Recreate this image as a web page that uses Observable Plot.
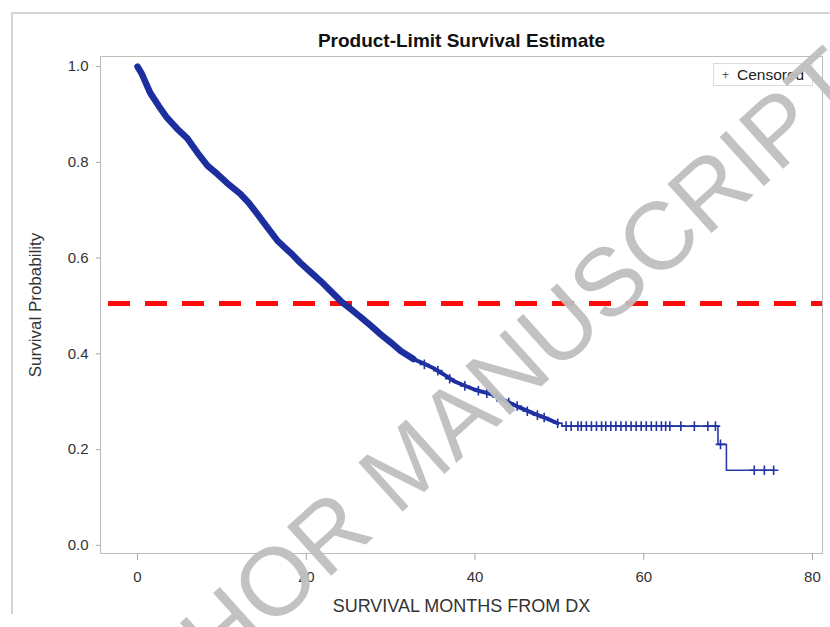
<!DOCTYPE html>
<html>
<head>
<meta charset="utf-8">
<script src="https://cdn.jsdelivr.net/npm/d3@7"></script>
<script src="https://cdn.jsdelivr.net/npm/@observablehq/plot@0.6"></script>
<style>
  body { margin: 0; background: #fff; font-family: "Liberation Sans", Arial, sans-serif; }
  #wrap { position: relative; width: 830px; height: 627px; overflow: hidden; }
  #border { position: absolute; left: 11px; top: 12px; width: 830px; height: 600px;
            border-left: 2px solid #d4d4d4; border-top: 2px solid #d4d4d4; }
  #legend { position: absolute; left: 713px; top: 63px; width: 100px; height: 23px;
            border: 1px solid #dcdcdc; font-size: 15.5px; color: #222; box-sizing: border-box;
            display: flex; align-items: center; }
  #legend .sym { color: #555; margin-left: 8px; margin-right: 8px; font-size: 12px; }
  #wm { position: absolute; left: 0; top: 0; pointer-events: none; }
</style>
</head>
<body>
<div id="wrap">
  <div id="border"></div>
  <div id="chart"></div>
  <div id="legend"><span class="sym">+</span><span>Censored</span></div>
  <svg id="wm" width="830" height="627"></svg>
</div>
<script>
// ---- data ----
const title = "Product-Limit Survival Estimate";
const xLabel = "SURVIVAL MONTHS FROM DX";
const yLabel = "Survival Probability";
const legendLabel = "Censored";
const watermark = "AUTHOR MANUSCRIPT";

const xTicks = [0, 20, 40, 60, 80];
const yTicks = [0.0, 0.2, 0.4, 0.6, 0.8, 1.0];
const medianLine = [0.505];

// dense part of the Kaplan-Meier curve (months, survival)
const earlyTime = [0, 0.5, 1.5, 2.5, 3.5, 4.7, 5.9, 7.1, 8.3, 9.5, 10.6, 12.2, 13.2, 14.2, 15.4, 16.6, 18.2, 19.3, 20.5, 21.7, 22.9, 24.1, 25.3, 26.5, 27.7, 28.8, 30.0, 31.2, 32.7];
const earlySurv = [1.0, 0.985, 0.945, 0.918, 0.893, 0.87, 0.85, 0.82, 0.793, 0.775, 0.757, 0.734, 0.715, 0.692, 0.664, 0.636, 0.61, 0.59, 0.571, 0.552, 0.531, 0.51, 0.493, 0.476, 0.458, 0.441, 0.424, 0.406, 0.389];
const lateTime = [32.7, 33.9, 35.1, 36.3, 37.5, 38.3, 40.0, 41.9, 43.6, 45.4, 47.0, 48.6, 49.8];
const lateSurv = [0.389, 0.38, 0.37, 0.357, 0.343, 0.337, 0.325, 0.316, 0.302, 0.287, 0.275, 0.264, 0.255];
// sparse tail (step function)
const tailTime = [49.8, 50.3, 68.8, 69.8, 75.4];
const tailSurv = [0.255, 0.249, 0.211, 0.157, 0.157];
// censored observations
const censTime = [34.0, 35.6, 37.0, 38.8, 40.4, 41.4, 42.6, 44.0, 45.0, 46.2, 47.4, 48.2, 49.8, 50.8, 51.4, 52.2, 52.6, 53.2, 53.8, 54.4, 55.0, 55.5, 56.1, 56.7, 57.3, 57.9, 58.5, 59.1, 59.7, 60.3, 60.9, 61.5, 62.1, 62.6, 63.1, 64.4, 66.0, 67.6, 68.5, 69.1, 73.1, 74.3, 75.4];
const censSurv = [0.378, 0.365, 0.348, 0.333, 0.323, 0.318, 0.31, 0.298, 0.291, 0.28, 0.272, 0.267, 0.255, 0.249, 0.249, 0.249, 0.249, 0.249, 0.249, 0.249, 0.249, 0.249, 0.249, 0.249, 0.249, 0.249, 0.249, 0.249, 0.249, 0.249, 0.249, 0.249, 0.249, 0.249, 0.249, 0.249, 0.249, 0.249, 0.249, 0.211, 0.157, 0.157, 0.157];

const zip = (t, s) => t.map((v, i) => ({t: v, s: s[i]}));
const early = zip(earlyTime, earlySurv);
const late = zip(lateTime, lateSurv);
const tail = zip(tailTime, tailSurv);
const cens = zip(censTime, censSurv);

const font = '"Liberation Sans", Arial, sans-serif';
const blue = "#1d2f9f";

const chart = Plot.plot({
  width: 830,
  height: 627,
  marginLeft: 100,
  marginRight: 8,
  marginTop: 56,
  marginBottom: 74,
  style: {fontFamily: font, background: "transparent"},
  x: {domain: [-4.39, 81.19]},
  y: {domain: [-0.017, 1.021]},
  marks: [
    Plot.ruleY(medianLine, {stroke: "#ff0a0a", strokeWidth: 5, strokeDasharray: "22,15", strokeDashoffset: 29}),
    Plot.line(early, {x: "t", y: "s", stroke: blue, strokeWidth: 6.5, strokeLinejoin: "round", strokeLinecap: "round"}),
    Plot.line(late, {x: "t", y: "s", stroke: blue, strokeWidth: 4, strokeLinejoin: "round", strokeLinecap: "round"}),
    Plot.line(tail, {x: "t", y: "s", stroke: "#2c3ba8", strokeWidth: 1.6, curve: "step-after"}),
    Plot.dot(cens, {x: "t", y: "s", symbol: "plus", r: 3.2, stroke: "#2234a4", strokeWidth: 1.6}),
    Plot.frame({stroke: "#bdbdbd"}),
    Plot.axisX({ticks: xTicks, tickSize: 7, tickPadding: 11, stroke: "#aaa", fill: "#333", fontSize: 15, label: null}),
    Plot.axisY({ticks: yTicks, tickSize: 4, tickPadding: 8, tickFormat: d3.format(".1f"), stroke: "#aaa", fill: "#333", fontSize: 15, label: null}),
    Plot.text([title], {frameAnchor: "top", lineAnchor: "middle", dy: -16, fontWeight: "bold", fontSize: 19, fill: "#111"}),
    Plot.text([xLabel], {frameAnchor: "bottom", lineAnchor: "middle", dy: 53, fontSize: 18, fill: "#333"}),
    Plot.text([yLabel], {frameAnchor: "left", dx: -65, rotate: -90, textAnchor: "middle", fontSize: 17, fill: "#333"})
  ]
});
document.getElementById("chart").appendChild(chart);

document.querySelector("#legend span:last-child").textContent = legendLabel;

// watermark overlay
const wm = d3.select("#wm");
wm.append("text")
  .attr("transform", "translate(455,430) rotate(-42)")
  .attr("text-anchor", "middle")
  .attr("dominant-baseline", "middle")
  .attr("font-family", font)
  .attr("font-size", 96)
  .attr("fill", "#bfbfbf")
  .attr("fill-opacity", 0.95)
  .text(watermark);
</script>
</body>
</html>
